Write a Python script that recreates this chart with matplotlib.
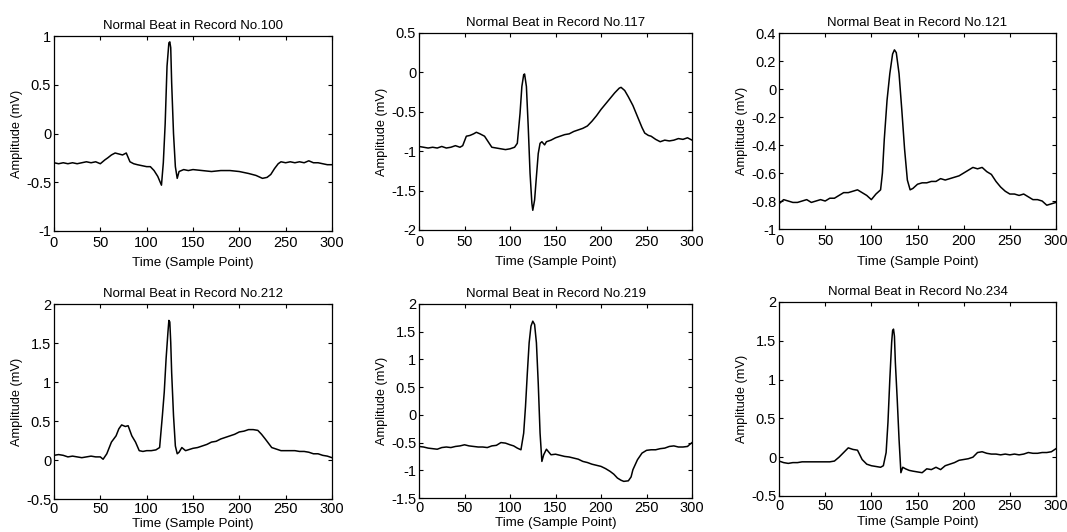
import matplotlib
matplotlib.use("Agg")
from matplotlib import pyplot as plt
from matplotlib.ticker import FuncFormatter, MultipleLocator

plt.rcParams['font.family'] = ['Liberation Sans', 'DejaVu Sans']
plt.rcParams['axes.unicode_minus'] = False

records = ['100', '117', '121', '212', '219', '234']

# sample index / amplitude (mV) pairs for one normal beat per record
t100 = [0, 5, 10, 15, 20, 25, 30, 35, 40, 45, 50, 55, 58, 62, 66, 70, 74, 78, 82, 86, 90, 95, 100,
        104, 108, 112, 116, 118, 120, 122, 124, 125, 126, 127, 129, 131, 133, 135, 140, 145, 150,
        160, 170, 180, 190, 200, 210, 218, 225, 230, 234, 238, 242, 245, 250, 255, 260, 265, 270,
        275, 280, 285, 290, 295, 300]
v100 = [-0.30, -0.31, -0.30, -0.31, -0.30, -0.31, -0.30, -0.29, -0.30, -0.29, -0.31, -0.27, -0.25,
        -0.22, -0.20, -0.21, -0.22, -0.20, -0.29, -0.31, -0.32, -0.33, -0.34, -0.34, -0.38, -0.44,
        -0.53, -0.30, 0.10, 0.69, 0.93, 0.94, 0.88, 0.52, 0.00, -0.34, -0.46, -0.39, -0.37, -0.38,
        -0.37, -0.38, -0.39, -0.38, -0.38, -0.39, -0.41, -0.43, -0.46, -0.45, -0.42, -0.36, -0.31,
        -0.29, -0.30, -0.29, -0.30, -0.29, -0.30, -0.28, -0.30, -0.30, -0.31, -0.32, -0.32]

t117 = [0, 5, 10, 15, 20, 25, 30, 35, 40, 45, 48, 52, 56, 60, 63, 67, 72, 76, 80, 85, 90, 95, 100,
        105, 108, 111, 113, 115, 116, 118, 120, 122, 124, 125, 127, 129, 131, 133, 135, 138, 140,
        145, 150, 155, 160, 165, 170, 175, 180, 185, 190, 195, 200, 205, 210, 215, 220, 222, 226,
        230, 235, 240, 245, 248, 252, 255, 260, 265, 270, 275, 280, 285, 290, 295, 300]
v117 = [-0.94, -0.95, -0.96, -0.95, -0.96, -0.94, -0.96, -0.95, -0.93, -0.95, -0.93, -0.81, -0.80,
        -0.78, -0.76, -0.78, -0.81, -0.88, -0.95, -0.96, -0.97, -0.98, -0.97, -0.95, -0.90, -0.52,
        -0.18, -0.03, -0.02, -0.18, -0.69, -1.28, -1.66, -1.75, -1.62, -1.32, -1.03, -0.90, -0.88,
        -0.92, -0.88, -0.86, -0.83, -0.81, -0.79, -0.78, -0.75, -0.73, -0.71, -0.68, -0.62, -0.55,
        -0.47, -0.40, -0.33, -0.26, -0.20, -0.19, -0.23, -0.31, -0.42, -0.56, -0.70, -0.77, -0.80,
        -0.81, -0.85, -0.88, -0.86, -0.87, -0.86, -0.84, -0.85, -0.83, -0.86]

t121 = [0, 5, 10, 15, 20, 25, 30, 35, 40, 45, 50, 55, 60, 65, 70, 75, 80, 85, 90, 95, 100, 105,
        110, 112, 114, 117, 120, 123, 125, 127, 130, 133, 136, 139, 142, 145, 150, 155, 160, 165,
        170, 175, 180, 185, 190, 195, 200, 205, 210, 215, 220, 225, 230, 235, 240, 245, 250, 255,
        260, 265, 270, 275, 280, 285, 290, 295, 300]
v121 = [-0.82, -0.79, -0.80, -0.81, -0.81, -0.80, -0.79, -0.81, -0.80, -0.79, -0.80, -0.78, -0.78,
        -0.76, -0.74, -0.74, -0.73, -0.72, -0.74, -0.76, -0.79, -0.75, -0.72, -0.60, -0.36, -0.08,
        0.11, 0.25, 0.28, 0.26, 0.11, -0.15, -0.43, -0.65, -0.72, -0.71, -0.68, -0.67, -0.67,
        -0.66, -0.66, -0.64, -0.65, -0.64, -0.63, -0.62, -0.60, -0.58, -0.56, -0.57, -0.56, -0.59,
        -0.61, -0.66, -0.70, -0.73, -0.75, -0.75, -0.76, -0.75, -0.77, -0.79, -0.79, -0.80, -0.83,
        -0.82, -0.81]

t212 = [0, 5, 10, 15, 20, 25, 30, 35, 40, 45, 50, 53, 57, 62, 67, 70, 73, 77, 80, 84, 88, 92, 96,
        100, 105, 110, 114, 117, 119, 121, 123, 124, 125, 126, 127, 129, 131, 133, 135, 138, 142,
        150, 155, 160, 165, 170, 175, 180, 185, 190, 195, 200, 205, 210, 215, 220, 224, 228, 235,
        240, 245, 250, 255, 260, 265, 270, 275, 280, 285, 290, 295, 300]
v212 = [0.06, 0.07, 0.06, 0.04, 0.05, 0.04, 0.03, 0.04, 0.05, 0.04, 0.04, 0.01, 0.08, 0.23, 0.31,
        0.40, 0.45, 0.43, 0.44, 0.31, 0.23, 0.12, 0.11, 0.12, 0.12, 0.13, 0.16, 0.57, 0.87, 1.30,
        1.64, 1.79, 1.77, 1.51, 1.12, 0.57, 0.18, 0.08, 0.10, 0.16, 0.12, 0.15, 0.16, 0.18, 0.20,
        0.23, 0.24, 0.27, 0.29, 0.31, 0.33, 0.36, 0.37, 0.39, 0.39, 0.38, 0.33, 0.27, 0.16, 0.14,
        0.12, 0.12, 0.12, 0.12, 0.11, 0.11, 0.10, 0.08, 0.08, 0.06, 0.05, 0.03]

t219 = [0, 5, 10, 15, 20, 25, 30, 35, 40, 45, 50, 55, 60, 65, 70, 75, 80, 85, 90, 95, 100, 104,
        108, 112, 115, 117, 119, 121, 123, 125, 127, 129, 131, 133, 135, 137, 140, 145, 150, 155,
        160, 165, 170, 175, 180, 185, 190, 195, 200, 205, 210, 214, 218, 222, 225, 230, 233, 235,
        240, 245, 250, 255, 260, 265, 270, 275, 280, 285, 290, 295, 297, 300]
v219 = [-0.57, -0.58, -0.60, -0.61, -0.62, -0.59, -0.58, -0.59, -0.57, -0.56, -0.54, -0.56, -0.57,
        -0.58, -0.58, -0.59, -0.56, -0.55, -0.50, -0.51, -0.54, -0.56, -0.60, -0.63, -0.33, 0.15,
        0.75, 1.30, 1.60, 1.69, 1.63, 1.30, 0.57, -0.33, -0.84, -0.72, -0.62, -0.72, -0.71, -0.73,
        -0.75, -0.76, -0.78, -0.80, -0.84, -0.86, -0.89, -0.91, -0.93, -0.97, -1.02, -1.07, -1.14,
        -1.18, -1.20, -1.19, -1.12, -0.99, -0.81, -0.69, -0.64, -0.63, -0.63, -0.61, -0.60, -0.57,
        -0.56, -0.58, -0.58, -0.57, -0.54, -0.50]

t234 = [0, 5, 10, 15, 20, 25, 30, 35, 40, 45, 50, 55, 60, 65, 70, 75, 80, 85, 90, 95, 100, 105,
        110, 113, 116, 118, 120, 122, 123, 124, 125, 126, 128, 130, 132, 134, 137, 141, 145, 150,
        155, 160, 165, 170, 175, 180, 185, 190, 195, 200, 205, 210, 215, 220, 225, 230, 235, 240,
        245, 250, 255, 260, 265, 270, 275, 280, 285, 290, 295, 300]
v234 = [-0.05, -0.07, -0.08, -0.07, -0.07, -0.06, -0.06, -0.06, -0.06, -0.06, -0.06, -0.06, -0.05,
        0.00, 0.06, 0.12, 0.10, 0.09, -0.03, -0.09, -0.11, -0.12, -0.13, -0.11, 0.06, 0.45, 1.00,
        1.48, 1.63, 1.65, 1.56, 1.22, 0.75, 0.23, -0.20, -0.13, -0.15, -0.17, -0.18, -0.19, -0.20,
        -0.15, -0.16, -0.13, -0.16, -0.11, -0.09, -0.07, -0.04, -0.03, -0.02, 0.00, 0.06, 0.07,
        0.05, 0.04, 0.04, 0.03, 0.04, 0.03, 0.04, 0.03, 0.04, 0.06, 0.05, 0.05, 0.06, 0.06, 0.07,
        0.11]

beats = [(t100, v100), (t117, v117), (t121, v121), (t212, v212), (t219, v219), (t234, v234)]

# y-limits and tick step for each panel
ylims = [(-1, 1), (-2, 0.5), (-1, 0.4), (-0.5, 2), (-1.5, 2), (-0.5, 2)]
ysteps = [0.5, 0.5, 0.2, 0.5, 0.5, 0.5]

# axes boxes [left, bottom, width, height] in figure fractions
boxes = [
    [0.0506, 0.5658, 0.2605, 0.3665],
    [0.3927, 0.5677, 0.2559, 0.3703],
    [0.7301, 0.5695, 0.2596, 0.3684],
    [0.0506, 0.0620, 0.2605, 0.3665],
    [0.3927, 0.0639, 0.2559, 0.3647],
    [0.7301, 0.0677, 0.2596, 0.3647],
]
# bottom row sits right at the figure edge, so its x labels are tighter
xlabelpads = [5.5, 5.5, 5.5, 1.0, 1.0, 1.5]
xtickpads = [3.5, 3.5, 3.5, 2.5, 2.5, 2.5]

# '%g' labels, with float noise like 2.2e-16 shown as 0
tick_fmt = FuncFormatter(lambda x, pos: '%g' % round(x, 6))

fig = plt.figure(figsize=(10.67, 5.32), dpi=100)

for i, rec in enumerate(records):
    t, v = beats[i]
    ax = fig.add_axes(boxes[i])
    ax.plot(t, v, color='black', linewidth=1.1)
    ax.set_xlim(0, 300)
    ax.set_ylim(*ylims[i])
    ax.xaxis.set_major_locator(MultipleLocator(50))
    ax.yaxis.set_major_locator(MultipleLocator(ysteps[i]))
    ax.yaxis.set_major_formatter(tick_fmt)
    ax.tick_params(direction='in', top=True, right=True, length=3, width=0.8,
                   labelsize=10.5)
    ax.tick_params(axis='x', pad=xtickpads[i])
    ax.tick_params(axis='y', pad=2)
    for s in ax.spines.values():
        s.set_linewidth(0.9)
    ax.set_title('Normal Beat in Record No.' + rec, fontsize=9.5, pad=5)
    ax.set_xlabel('Time (Sample Point)', fontsize=9.6, labelpad=xlabelpads[i])
    ax.set_ylabel('Amplitude (mV)', fontsize=9.2, labelpad=2)

plt.savefig("out.png", dpi=100)
